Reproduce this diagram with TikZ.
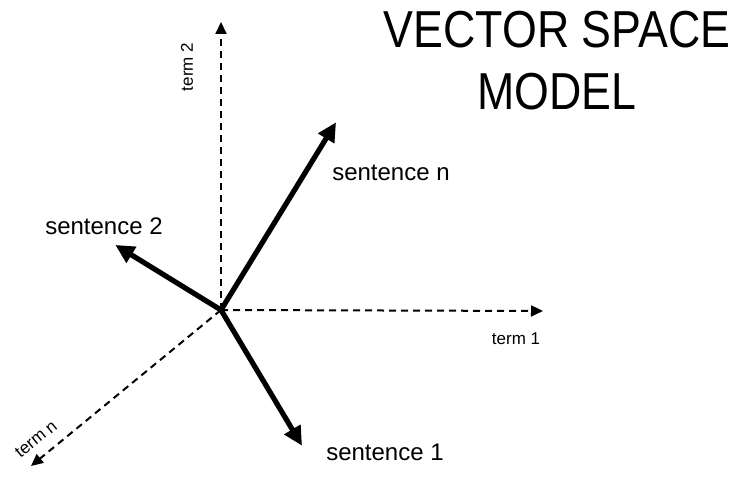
\documentclass[tikz,border=0pt]{standalone}
\usepackage{fontspec}
\setmainfont{Liberation Sans}
\usetikzlibrary{arrows.meta}
\begin{document}
\begin{tikzpicture}[x=1pt,y=-1pt,
  axis/.style={line width=2pt,dash pattern=on 7pt off 5pt,-{Triangle[length=12pt,width=11pt]}},
  vec/.style={line width=5.2pt,-{Triangle[length=19pt,width=18pt]},shorten >=-2pt},
  lbl/.style={inner sep=0pt,font=\fontsize{24}{28}\selectfont},
  axlbl/.style={inner sep=0pt,font=\fontsize{17}{20}\selectfont}]
\useasboundingbox (0,0) rectangle (740,494);
\coordinate (o) at (221,310);
\coordinate (t1) at (543,311);
\coordinate (t2) at (221,22);
\coordinate (tn) at (31,466);
\coordinate (s1) at (301,444);
\coordinate (s2) at (117,246);
\coordinate (sn) at (335,124);
\draw[axis] (o) -- (t1);
\draw[axis] (o) -- (t2);
\draw[axis] (o) -- (tn);
\draw[vec] (o) -- (s1);
\draw[vec] (o) -- (s2);
\draw[vec] (o) -- (sn);
\node[axlbl] (l1) at (516,339) {term 1};
\node[axlbl,rotate=90] (l2) at (187,67) {term 2};
\node[axlbl,rotate=39] (ln) at (36,439) {term n};
\node[lbl] (ls1) at (385,452) {sentence 1};
\node[lbl] (ls2) at (104,226) {sentence 2};
\node[lbl] (lsn) at (391,173) {sentence n};
\node[inner sep=0pt,align=center,font=\fontsize{52}{62}\selectfont] (title) at (557,61)
  {\scalebox{0.86}[1]{VECTOR SPACE}\\\scalebox{0.86}[1]{MODEL}};
\end{tikzpicture}
\end{document}
